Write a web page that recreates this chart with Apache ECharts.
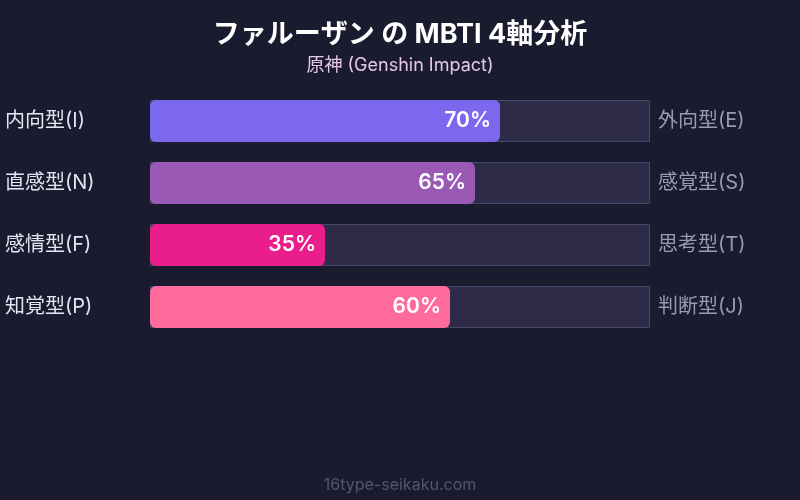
<!DOCTYPE html>
<html><head><meta charset="utf-8">
<script src="https://cdn.jsdelivr.net/npm/echarts@6/dist/echarts.min.js"></script>
<style>html,body{margin:0;padding:0;background:#1a1b2e;}#c{width:800px;height:500px;}</style>
</head><body><div id="c"></div>
<script>
const leftLabels = ['内向型(I)', '直感型(N)', '感情型(F)', '知覚型(P)'];
const rightLabels = ['外向型(E)', '感覚型(S)', '思考型(T)', '判断型(J)'];
const values = [70, 65, 35, 60];
const barColors = ['#7b68ee', '#9b59b6', '#e91e8c', '#ff6b9d'];
const trackValues = [100, 100, 100, 100];

const FONT = "Inter, 'Noto Sans CJK JP', sans-serif";
const chart = echarts.init(document.getElementById('c'), null, {renderer: 'canvas'});
chart.setOption({
  backgroundColor: '#1a1b2e',
  animation: false,
  textStyle: {fontFamily: FONT},
  title: [
    {text: 'ファルーザン の MBTI 4軸分析', left: 'center', top: 16,
     textStyle: {color: '#ffffff', fontSize: 27, fontWeight: 'bold', fontFamily: FONT}},
    {text: '原神 (Genshin Impact)', left: 'center', top: 52,
     textStyle: {color: '#e6c8e6', fontSize: 18, fontWeight: 'normal', fontFamily: FONT}},
    {text: '16type-seikaku.com', left: 'center', top: 472,
     textStyle: {color: '#55566e', fontSize: 16, fontWeight: 'normal', fontFamily: FONT}}
  ],
  grid: {left: 150, right: 150, top: 90, bottom: 162},
  xAxis: {type: 'value', min: 0, max: 100, show: false},
  yAxis: [
    {type: 'category', data: leftLabels, inverse: true, position: 'left',
     axisLine: {show: false}, axisTick: {show: false},
     axisLabel: {color: '#e4e4f2', fontSize: 20, align: 'left', margin: 145, fontFamily: FONT}},
    {type: 'category', data: rightLabels, inverse: true, position: 'right',
     axisLine: {show: false}, axisTick: {show: false},
     axisLabel: {color: '#9a9ab2', fontSize: 20, align: 'left', margin: 8, fontFamily: FONT}}
  ],
  series: [
    {type: 'bar', data: trackValues, barWidth: 42, silent: true, yAxisIndex: 0,
     itemStyle: {color: '#2d2b48', borderColor: '#47476a', borderWidth: 1}, z: 1},
    {type: 'bar', data: values.map((v, i) => ({value: v, itemStyle: {color: barColors[i]}})),
     barWidth: 42, barGap: '-100%', yAxisIndex: 0, z: 2,
     itemStyle: {borderRadius: 6},
     label: {show: true, position: 'insideRight', distance: 9, formatter: '{c}%',
             color: '#ffffff', fontSize: 21, fontWeight: 600, fontFamily: FONT}}
  ]
});
</script></body></html>
